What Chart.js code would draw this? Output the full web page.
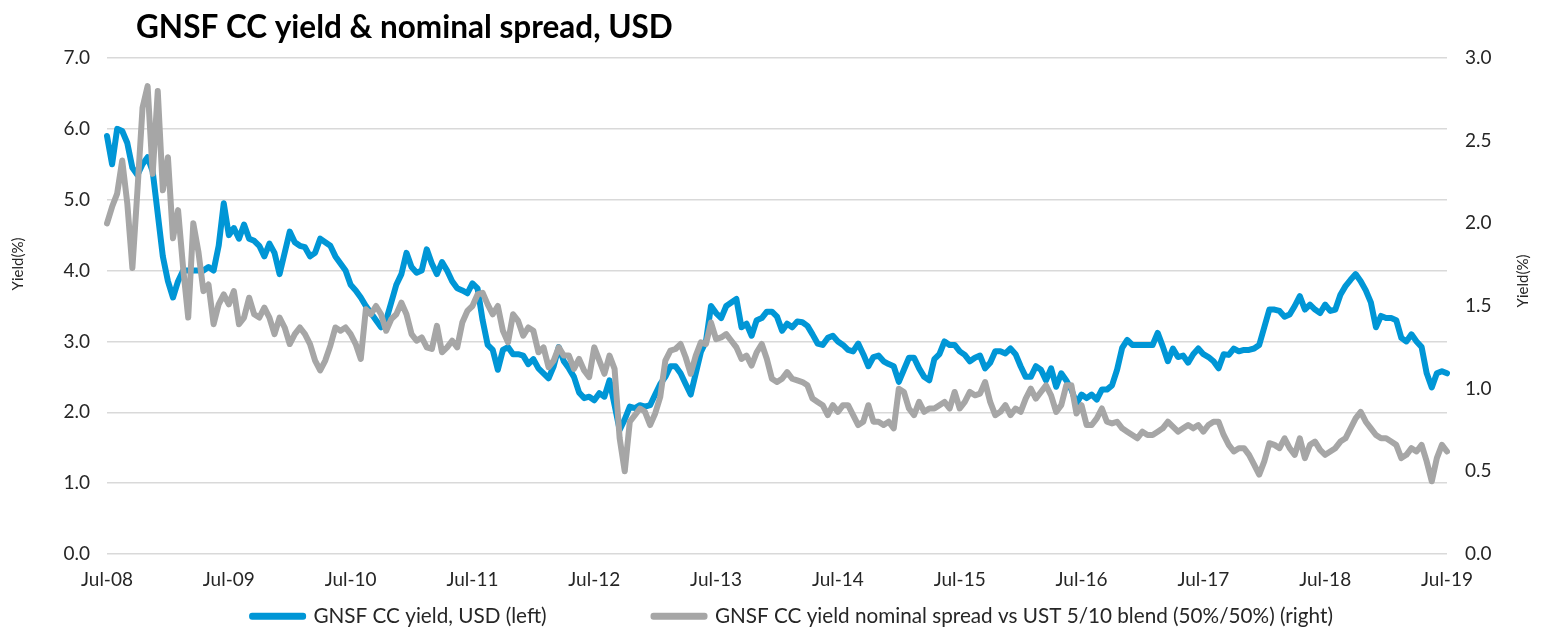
<!DOCTYPE html>
<html lang="en">
<head>
<meta charset="UTF-8">
<title>GNSF CC yield &amp; nominal spread, USD</title>
<script src="https://cdn.jsdelivr.net/npm/chart.js@4.4.1/dist/chart.umd.min.js"></script>
<style>
    body { margin: 0; background: #fff; }
    #wrap { width: 1547px; height: 630px; }
</style>
</head>
<body>
<div id="wrap"><canvas id="myChart" width="1547" height="630"></canvas></div>

<script>
const chartTitle = 'GNSF CC yield & nominal spread, USD'
const axisTitle = 'Yield(%)'
const seriesNames = ['GNSF CC yield, USD (left)', 'GNSF CC yield nominal spread vs UST 5/10 blend (50%/50%) (right)']

// x axis labels, one every 24 half-months
const tickLabels = ['Jul-08', 'Jul-09', 'Jul-10', 'Jul-11', 'Jul-12', 'Jul-13', 'Jul-14', 'Jul-15', 'Jul-16', 'Jul-17', 'Jul-18', 'Jul-19']
const monthNames = ['Jan', 'Feb', 'Mar', 'Apr', 'May', 'Jun', 'Jul', 'Aug', 'Sep', 'Oct', 'Nov', 'Dec']

const yieldUsd = [
    5.9, 5.5, 6.0, 5.97, 5.8, 5.45, 5.35, 5.5, 5.6, 5.4,
    4.8, 4.2, 3.85, 3.62, 3.85, 4.0, 4.0, 4.0, 4.0, 4.0,
    4.05, 4.0, 4.35, 4.95, 4.5, 4.6, 4.45, 4.65, 4.45, 4.42,
    4.35, 4.2, 4.38, 4.25, 3.95, 4.25, 4.55, 4.4, 4.35, 4.33,
    4.2, 4.25, 4.45, 4.4, 4.35, 4.2, 4.1, 4.0, 3.8, 3.72,
    3.62, 3.5, 3.4, 3.3, 3.2, 3.3, 3.55, 3.8, 3.95, 4.25,
    4.05, 3.97, 4.0, 4.3, 4.1, 3.95, 4.12, 4.0, 3.85, 3.75,
    3.72, 3.68, 3.82, 3.75, 3.3, 2.95, 2.88, 2.6, 2.88, 2.92,
    2.82, 2.82, 2.8, 2.68, 2.75, 2.62, 2.55, 2.48, 2.65, 2.92,
    2.72, 2.62, 2.5, 2.28, 2.2, 2.22, 2.17, 2.27, 2.22, 2.45,
    2.1, 1.75, 1.9, 2.08, 2.06, 2.1, 2.08, 2.1, 2.25, 2.4,
    2.5, 2.65, 2.65, 2.55, 2.4, 2.25, 2.55, 2.85, 3.0, 3.5,
    3.4, 3.33, 3.5, 3.55, 3.6, 3.2, 3.25, 3.08, 3.3, 3.33,
    3.42, 3.42, 3.35, 3.15, 3.25, 3.2, 3.28, 3.27, 3.22, 3.1,
    2.97, 2.95, 3.05, 3.08, 3.0, 2.95, 2.88, 2.86, 2.97, 2.82,
    2.65, 2.78, 2.8, 2.72, 2.68, 2.65, 2.43, 2.6, 2.77, 2.77,
    2.62, 2.5, 2.45, 2.75, 2.82, 3.0, 2.95, 2.95, 2.86, 2.81,
    2.72, 2.77, 2.8, 2.62, 2.7, 2.86, 2.86, 2.83, 2.9, 2.82,
    2.65, 2.5, 2.5, 2.65, 2.6, 2.45, 2.62, 2.36, 2.55, 2.45,
    2.32, 2.12, 2.25, 2.2, 2.25, 2.18, 2.32, 2.32, 2.38, 2.6,
    2.91, 3.02, 2.95, 2.95, 2.95, 2.95, 2.95, 3.12, 2.93, 2.72,
    2.9, 2.78, 2.8, 2.7, 2.82, 2.9, 2.82, 2.78, 2.72, 2.62,
    2.82, 2.81, 2.9, 2.86, 2.88, 2.88, 2.9, 2.95, 3.2, 3.45,
    3.45, 3.43, 3.35, 3.38, 3.5, 3.64, 3.45, 3.52, 3.45, 3.4,
    3.52, 3.43, 3.45, 3.66, 3.78, 3.87, 3.95, 3.85, 3.72, 3.55,
    3.2, 3.36, 3.33, 3.33, 3.3, 3.05, 3.0, 3.1, 3.0, 2.92,
    2.55, 2.35, 2.55, 2.58, 2.55
]

// nominal spread vs UST 5/10 blend, % (right axis)
const spreadBlend = [
    2.0, 2.1, 2.18, 2.38, 2.12, 1.73, 2.2, 2.7, 2.83, 2.3,
    2.8, 2.2, 2.4, 1.91, 2.08, 1.73, 1.43, 2.0, 1.83, 1.59,
    1.63, 1.39, 1.51, 1.57, 1.51, 1.59, 1.39, 1.43, 1.55, 1.45,
    1.43, 1.49, 1.43, 1.33, 1.43, 1.37, 1.27, 1.33, 1.37, 1.33,
    1.27, 1.17, 1.11, 1.17, 1.26, 1.37, 1.35, 1.37, 1.33, 1.27,
    1.18, 1.48, 1.45, 1.5, 1.45, 1.35, 1.42, 1.45, 1.52, 1.45,
    1.33, 1.29, 1.31, 1.25, 1.24, 1.38, 1.22, 1.25, 1.29, 1.25,
    1.4, 1.47, 1.5, 1.57, 1.58, 1.51, 1.45, 1.5, 1.35, 1.28,
    1.45, 1.41, 1.32, 1.37, 1.35, 1.22, 1.25, 1.13, 1.17, 1.25,
    1.2, 1.2, 1.12, 1.18, 1.11, 1.07, 1.25, 1.17, 1.09, 1.2,
    1.12, 0.7, 0.5, 0.8, 0.84, 0.88, 0.86, 0.78, 0.85, 0.95,
    1.17, 1.23, 1.24, 1.27, 1.19, 1.09, 1.2, 1.28, 1.27, 1.4,
    1.3, 1.31, 1.33, 1.29, 1.25, 1.18, 1.2, 1.14, 1.22, 1.27,
    1.18, 1.06, 1.04, 1.06, 1.1, 1.06, 1.05, 1.04, 1.02, 0.94,
    0.92, 0.9, 0.84, 0.9, 0.86, 0.9, 0.9, 0.84, 0.78, 0.8,
    0.9, 0.8, 0.8, 0.78, 0.8, 0.76, 1.0, 0.98, 0.88, 0.84,
    0.92, 0.86, 0.88, 0.88, 0.9, 0.92, 0.88, 0.98, 0.88, 0.92,
    0.98, 0.96, 0.97, 1.04, 0.92, 0.84, 0.86, 0.9, 0.84, 0.88,
    0.86, 0.94, 1.0, 0.94, 0.98, 1.02, 0.96, 0.86, 0.9, 1.02,
    1.02, 0.85, 0.9, 0.78, 0.78, 0.82, 0.88, 0.8, 0.79, 0.8,
    0.76, 0.74, 0.72, 0.7, 0.74, 0.72, 0.72, 0.74, 0.76, 0.8,
    0.77, 0.74, 0.76, 0.78, 0.76, 0.78, 0.74, 0.78, 0.8, 0.8,
    0.72, 0.66, 0.62, 0.64, 0.64, 0.6, 0.54, 0.48, 0.56, 0.67,
    0.66, 0.64, 0.7, 0.64, 0.6, 0.7, 0.58, 0.66, 0.68, 0.63,
    0.6, 0.62, 0.64, 0.68, 0.7, 0.76, 0.82, 0.86, 0.8, 0.76,
    0.72, 0.7, 0.7, 0.68, 0.66, 0.58, 0.6, 0.64, 0.62, 0.66,
    0.56, 0.44, 0.58, 0.66, 0.62
]

// half-month categories
const periods = []
for (let i = 0; i < yieldUsd.length; i++) {
    const m = 6 + Math.floor(i / 2)
    periods.push(monthNames[m % 12] + '-' + String(2008 + Math.floor(m / 12)).slice(2) + (i % 2 ? ' mid' : ''))
}

const textColor = '#262626'
Chart.defaults.font.family = 'Lato'
Chart.defaults.color = textColor

// title and both axis titles, drawn where the original has them
const extraText = {
    id: 'extraText',
    afterDraw(chart) {
        const ctx = chart.ctx
        ctx.save()
        ctx.fillStyle = '#000'
        ctx.font = 'bold 31.5px Lato'
        ctx.textBaseline = 'alphabetic'
        ctx.fillText(chartTitle, 136, 38)

        ctx.fillStyle = textColor
        ctx.font = '15px Lato'
        ctx.textAlign = 'center'
        ctx.textBaseline = 'middle'
        const spots = [[18, 264], [1523, 281]]
        spots.forEach(p => {
            ctx.save()
            ctx.translate(p[0], p[1])
            ctx.rotate(-Math.PI / 2)
            ctx.fillText(axisTitle, 0, 0)
            ctx.restore()
        })
        ctx.restore()
    }
}

const ctx = document.getElementById('myChart').getContext('2d')
const myChart = new Chart(ctx, {
    type: 'line',
    data: {
        labels: periods,
        datasets: [
            {
                label: seriesNames[0],
                data: yieldUsd,
                yAxisID: 'y',
                borderColor: '#0096D6',
                backgroundColor: '#0096D6',
                borderWidth: 6,
                order: 2
            },
            {
                label: seriesNames[1],
                data: spreadBlend,
                yAxisID: 'y1',
                borderColor: '#A6A6A6',
                backgroundColor: '#A6A6A6',
                borderWidth: 6,
                order: 1
            }
        ]
    },
    options: {
        responsive: false,
        animation: false,
        elements: {
            point: { radius: 0 },
            line: { tension: 0, borderJoinStyle: 'round', borderCapStyle: 'round' }
        },
        layout: { padding: { top: 58, left: 38, right: 0, bottom: 0 } },
        plugins: {
            tooltip: { enabled: false },
            legend: {
                position: 'bottom',
                maxHeight: 25,
                labels: {
                    font: { size: 20.7 },
                    color: textColor,
                    boxWidth: 51,
                    boxHeight: 1,
                    padding: 1,
                    sort: (a, b) => a.datasetIndex - b.datasetIndex,
                    generateLabels: chart => {
                        const items = Chart.defaults.plugins.legend.labels.generateLabels(chart)
                        items.forEach(it => {
                            if (it.datasetIndex === 0) it.text += '\u00a0'.repeat(20)
                        })
                        return items
                    }
                }
            }
        },
        scales: {
            x: {
                grid: { display: false },
                border: { display: false },
                ticks: {
                    autoSkip: false,
                    maxRotation: 0,
                    padding: 6,
                    font: { size: 19 },
                    color: textColor,
                    callback: (v, i) => (i % 24 === 0 ? tickLabels[i / 24] : '')
                },
                afterFit: s => { s.height = 51 }
            },
            y: {
                position: 'left',
                min: 0,
                max: 7,
                border: { display: false },
                grid: { color: '#D9D9D9', lineWidth: 1.5, drawTicks: false },
                ticks: {
                    stepSize: 1,
                    padding: 17,
                    font: { size: 19 },
                    color: textColor,
                    callback: v => v.toFixed(1)
                },
                afterFit: s => { s.width = 69 }
            },
            y1: {
                position: 'right',
                min: 0,
                max: 3,
                border: { display: false },
                grid: { display: false, drawTicks: false },
                ticks: {
                    stepSize: 0.5,
                    padding: 18,
                    font: { size: 19 },
                    color: textColor,
                    callback: v => v.toFixed(1)
                },
                afterFit: s => { s.width = 100 }
            }
        }
    },
    plugins: [extraText]
})
</script>
</body>
</html>
